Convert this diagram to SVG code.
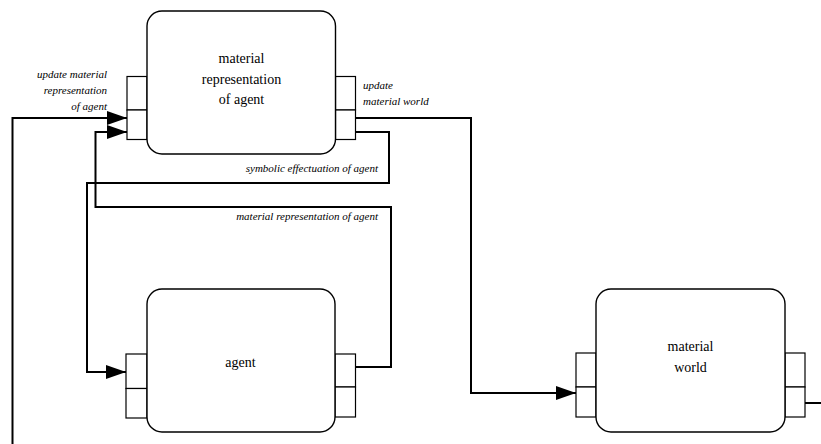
<svg xmlns="http://www.w3.org/2000/svg" width="821" height="444" viewBox="0 0 821 444">
<style>
.box{fill:#fff;stroke:#000;stroke-width:1.4}
.port{fill:#fff;stroke:#000;stroke-width:1.2}
.t{font-size:14px;text-anchor:middle;fill:#000}
.l{font-size:11px;font-style:italic;fill:#000}
.c{fill:none;stroke:#000;stroke-width:2}
</style>
<defs>
<marker id="ah" markerWidth="20" markerHeight="14" refX="20" refY="7" orient="auto" markerUnits="userSpaceOnUse">
<path d="M0,0 L20,7 L0,14 Z" fill="#000"/>
</marker>
</defs>
<g id="connectors" font-family="Liberation Serif, DejaVu Serif, serif">
<path class="c" d="M12.5,444 L12.5,118 L127,118" marker-end="url(#ah)"/>
<path class="c" d="M355,132 L389,132 L389,183 L87,183 L87,372 L126,372" marker-end="url(#ah)"/>
<path class="c" d="M355,367 L391,367 L391,207 L95.5,207 L95.5,132 L127,132" marker-end="url(#ah)"/>
<path class="c" d="M355,118 L471,118 L471,393 L576,393" marker-end="url(#ah)"/>
<path class="c" d="M805,403 L821,403"/>
<text class="l" x="107" y="78" text-anchor="end">update material</text>
<text class="l" x="107" y="94" text-anchor="end">representation</text>
<text class="l" x="107" y="110" text-anchor="end">of agent</text>
<text class="l" x="363" y="89">update</text>
<text class="l" x="363" y="105">material world</text>
<text class="l" x="378" y="172" text-anchor="end">symbolic effectuation of agent</text>
<text class="l" x="378" y="220" text-anchor="end">material representation of agent</text>
</g>
<g id="node-material-representation" font-family="Liberation Serif, DejaVu Serif, serif">
<rect class="port" x="127" y="76.5" width="20" height="33.5"/>
<rect class="port" x="127" y="110" width="20" height="29.5"/>
<rect class="port" x="335.5" y="76.5" width="20" height="33.5"/>
<rect class="port" x="335.5" y="110" width="20" height="29.5"/>
<rect class="box" x="147" y="11" width="188.5" height="143" rx="15"/>
<text class="t" x="241.5" y="63">material</text>
<text class="t" x="241.5" y="83.5">representation</text>
<text class="t" x="241.5" y="103.5">of agent</text>
</g>
<g id="node-agent" font-family="Liberation Serif, DejaVu Serif, serif">
<rect class="port" x="126" y="354" width="21" height="34.5"/>
<rect class="port" x="126" y="388.5" width="21" height="29.5"/>
<rect class="port" x="335" y="354" width="20.5" height="33"/>
<rect class="port" x="335" y="387" width="20.5" height="30"/>
<rect class="box" x="147" y="289" width="188" height="143" rx="15"/>
<text class="t" x="240.5" y="367">agent</text>
</g>
<g id="node-material-world" font-family="Liberation Serif, DejaVu Serif, serif">
<rect class="port" x="576" y="353" width="20" height="34"/>
<rect class="port" x="576" y="387" width="20" height="30"/>
<rect class="port" x="785" y="353" width="20" height="34"/>
<rect class="port" x="785" y="387" width="20" height="30"/>
<rect class="box" x="596" y="289" width="189" height="143" rx="15"/>
<text class="t" x="690.5" y="351">material</text>
<text class="t" x="690.5" y="372">world</text>
</g>
</svg>
